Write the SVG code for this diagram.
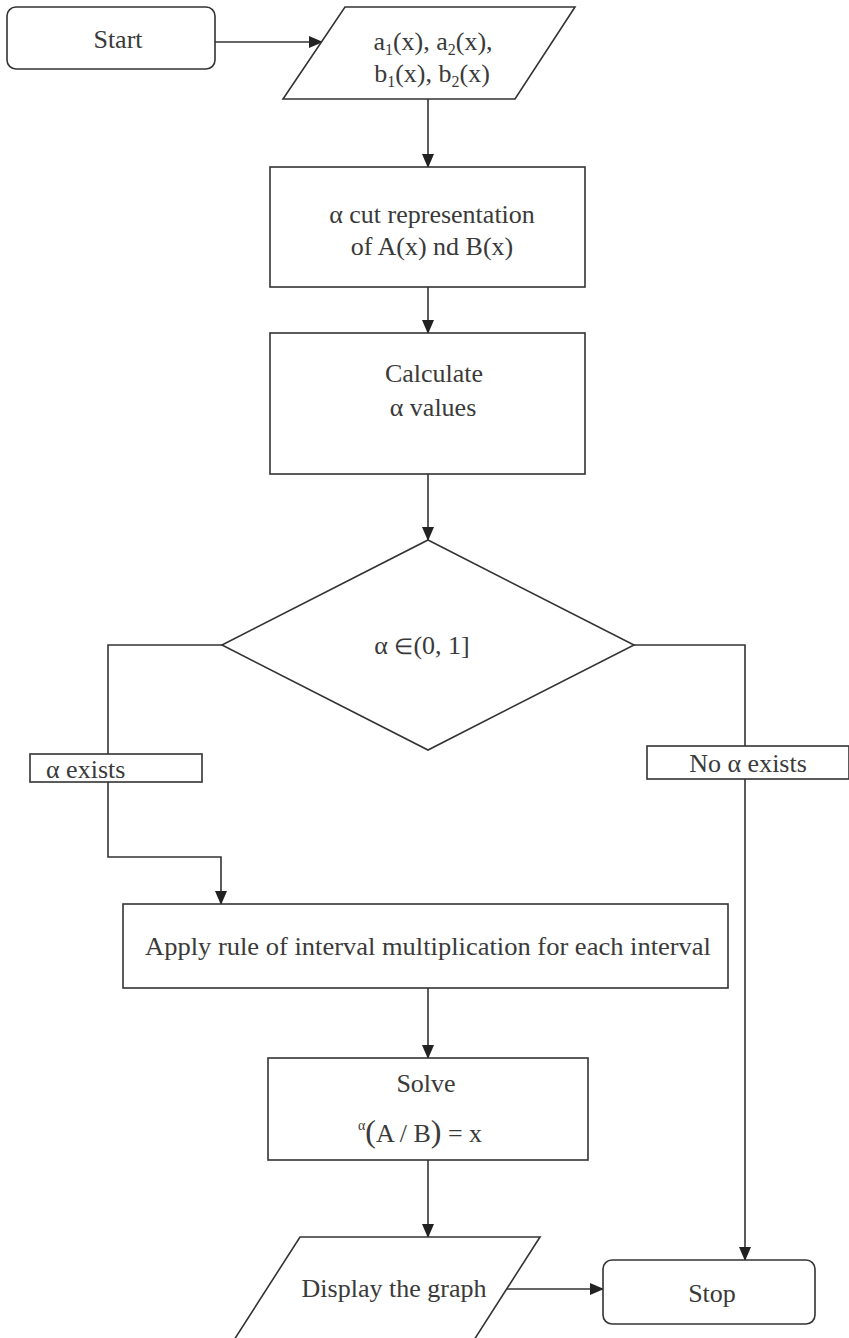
<svg xmlns="http://www.w3.org/2000/svg" width="849" height="1338" viewBox="0 0 849 1338">
<defs>
<style>
.s{fill:#fff;stroke:#333;stroke-width:1.6}
.c{fill:none;stroke:#333;stroke-width:1.6}
.t{font-family:"Liberation Serif","Times New Roman",serif;font-size:26px;fill:#3a3a3a;text-anchor:middle}
.l{text-anchor:start}
.sub{font-size:16px}
</style>
<marker id="ah" markerWidth="14" markerHeight="12" refX="13" refY="6" orient="auto" markerUnits="userSpaceOnUse">
<path d="M0,0 L14,6 L0,12 Z" fill="#222"/>
</marker>
</defs>
<rect width="849" height="1338" fill="#fff"/>
<g id="connectors">
<path class="c" d="M215,42 H322" marker-end="url(#ah)"/>
<path class="c" d="M428,99 V167" marker-end="url(#ah)"/>
<path class="c" d="M428,287 V333" marker-end="url(#ah)"/>
<path class="c" d="M428,474 V540" marker-end="url(#ah)"/>
<path class="c" d="M222,645 H108 V754"/>
<path class="c" d="M108,782 V857 H221 V904" marker-end="url(#ah)"/>
<path class="c" d="M634,645 H745 V746"/>
<path class="c" d="M745,779 V1260" marker-end="url(#ah)"/>
<path class="c" d="M428,988 V1058" marker-end="url(#ah)"/>
<path class="c" d="M428,1160 V1237" marker-end="url(#ah)"/>
<path class="c" d="M480,1289 H603" marker-end="url(#ah)"/>
</g>
<g id="start">
<rect class="s" x="7" y="7" width="208" height="62" rx="9"/>
<text class="t" x="118" y="48">Start</text>
</g>
<g id="input">
<polygon class="s" points="345,7 575,7 515,99 283,99"/>
<text class="t" x="433" y="50">a<tspan class="sub" dy="5">1</tspan><tspan dy="-5">(x), a</tspan><tspan class="sub" dy="5">2</tspan><tspan dy="-5">(x),</tspan></text>
<text class="t" x="432" y="82">b<tspan class="sub" dy="5">1</tspan><tspan dy="-5">(x), b</tspan><tspan class="sub" dy="5">2</tspan><tspan dy="-5">(x)</tspan></text>
</g>
<g id="alpha-cut">
<rect class="s" x="270" y="167" width="315" height="120"/>
<text class="t" x="432" y="223">α cut representation</text>
<text class="t" x="432" y="255">of A(x) nd B(x)</text>
</g>
<g id="calculate">
<rect class="s" x="270" y="333" width="315" height="141"/>
<text class="t" x="434" y="382">Calculate</text>
<text class="t" x="433" y="416">α values</text>
</g>
<g id="decision">
<polygon class="s" points="428,540 634,645 428,750 222,645"/>
<text class="t" x="422" y="654">α <tspan font-size="22">∈</tspan>(0, 1]</text>
</g>
<g id="alpha-exists">
<rect class="s" x="30" y="754" width="172" height="28"/>
<text class="t l" x="46" y="778">α exists</text>
</g>
<g id="no-alpha">
<rect class="s" x="647" y="746" width="202" height="33"/>
<text class="t" x="748" y="772">No α exists</text>
</g>
<g id="apply">
<rect class="s" x="123" y="904" width="605" height="84"/>
<text class="t" x="428" y="955" textLength="566" lengthAdjust="spacingAndGlyphs">Apply rule of interval multiplication for each interval</text>
</g>
<g id="solve">
<rect class="s" x="268" y="1058" width="320" height="102"/>
<text class="t" x="426" y="1092">Solve</text>
<text class="t" x="420" y="1142"><tspan font-size="14" dy="-12">α</tspan><tspan font-size="32" dy="12">(</tspan>A / B<tspan font-size="32">)</tspan> = x</text>
</g>
<g id="display">
<polygon class="s" points="300,1237 540,1237 474,1340 234,1340"/>
<text class="t" x="394" y="1297">Display the graph</text>
</g>
<g id="stop">
<rect class="s" x="603" y="1260" width="212" height="64" rx="9"/>
<text class="t" x="712" y="1302">Stop</text>
</g>
</svg>
